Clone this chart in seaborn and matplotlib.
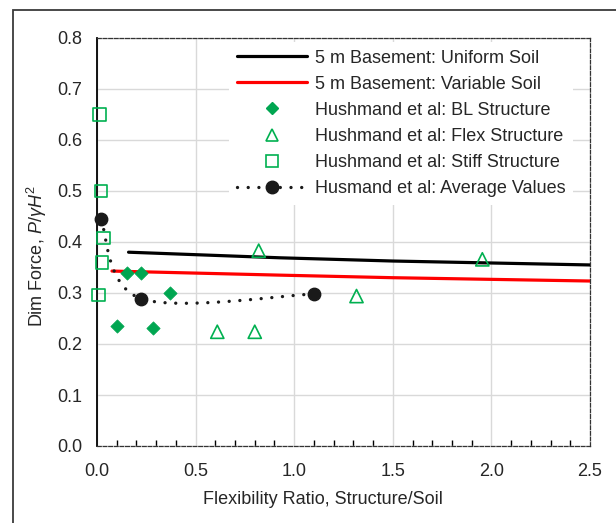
import numpy as np
import pandas as pd
import matplotlib
matplotlib.use("Agg")
import matplotlib.pyplot as plt
from matplotlib.lines import Line2D
from matplotlib.patches import Rectangle
from matplotlib.ticker import MultipleLocator, FormatStrFormatter
import seaborn as sns

# ---- data ----
uniform_x = [0.16, 0.93, 1.5, 2.5]
uniform_y = [0.380, 0.369, 0.3627, 0.355]
variable_x = [0.076, 0.93, 1.5, 2.5]
variable_y = [0.343, 0.335, 0.330, 0.3235]
bl_x = [0.10, 0.154, 0.221, 0.282, 0.370]
bl_y = [0.235, 0.340, 0.340, 0.231, 0.300]
flex_x = [0.61, 0.80, 0.82, 1.316, 1.954]
flex_y = [0.224, 0.224, 0.383, 0.294, 0.366]
stiff_x = [0.012, 0.019, 0.032, 0.024, 0.007]
stiff_y = [0.650, 0.500, 0.408, 0.360, 0.296]
avg_x = [0.019, 0.223, 1.102]
avg_y = [0.4445, 0.289, 0.298]

labels = [
    "5 m Basement: Uniform Soil",
    "5 m Basement: Variable Soil",
    "Hushmand et al: BL Structure",
    "Hushmand et al: Flex Structure",
    "Hushmand et al: Stiff Structure",
    "Husmand et al: Average Values",
]

sns.set_style("white")
plt.rcParams["font.family"] = ["Liberation Sans", "DejaVu Sans"]
plt.rcParams["mathtext.fontset"] = "custom"
plt.rcParams["mathtext.it"] = "Liberation Sans:italic"
plt.rcParams["mathtext.rm"] = "Liberation Sans"

FS = 13.0
GREEN = "#00a651"
GREEN_OPEN = "#00b050"

fig = plt.figure(figsize=(6.16, 5.23), dpi=100)
ax = fig.add_axes([97 / 616, 1 - 446 / 523, (590 - 97) / 616, (446 - 38) / 523])
ax.set_xlim(0, 2.5)
ax.set_ylim(0, 0.8)

# outer chart border
fig.patches.append(Rectangle((13 / 616, -0.2), 1.2, 1.2 - 10 / 523,
                             transform=fig.transFigure, fill=False,
                             edgecolor="#3a3a3a", linewidth=1.3, zorder=0))

# grid
ax.xaxis.set_major_locator(MultipleLocator(0.5))
ax.xaxis.set_minor_locator(MultipleLocator(0.1))
ax.yaxis.set_major_locator(MultipleLocator(0.1))
ax.grid(True, which="major", color="#d9d9d9", linewidth=1.0)
ax.set_axisbelow(True)

# model curves
lines_df = pd.DataFrame({
    "x": uniform_x + variable_x,
    "y": uniform_y + variable_y,
    "series": [labels[0]] * len(uniform_x) + [labels[1]] * len(variable_x),
})
sns.lineplot(data=lines_df, x="x", y="y", hue="series",
             palette={labels[0]: "black", labels[1]: "#ff0000"},
             linewidth=2.3, legend=False, ax=ax, sort=False, zorder=3)

# measured points
sns.scatterplot(x=bl_x, y=bl_y, marker="D", s=46, color=GREEN,
                edgecolor=GREEN, linewidth=0.5, ax=ax, zorder=4, clip_on=False)
sns.scatterplot(x=flex_x, y=flex_y, marker="^", s=90, facecolor="none",
                edgecolor=GREEN_OPEN, linewidth=1.2, ax=ax, zorder=4, clip_on=False)
sns.scatterplot(x=stiff_x, y=stiff_y, marker="s", s=80, facecolor="none",
                edgecolor=GREEN_OPEN, linewidth=1.2, ax=ax, zorder=4, clip_on=False)


def smooth_curve(ax, xs, ys, n=60):
    """Bezier-smoothed polyline through the given points (display space)."""
    pts = ax.transData.transform(np.column_stack([xs, ys]))
    m = len(pts)
    out = [pts[0]]
    t = np.linspace(0, 1, n)[1:, None]
    for i in range(m - 1):
        p0 = pts[max(i - 1, 0)]
        p1 = pts[i]
        p2 = pts[i + 1]
        p3 = pts[min(i + 2, m - 1)]
        c1 = p1 + (p2 - p0) / 6
        c2 = p2 - (p3 - p1) / 6
        seg = ((1 - t) ** 3) * p1 + 3 * ((1 - t) ** 2) * t * c1 \
            + 3 * (1 - t) * t ** 2 * c2 + t ** 3 * p2
        out.extend(seg)
    return ax.transData.inverted().transform(np.array(out))


DOTS = (0, (0.01, 3.2))
curve = smooth_curve(ax, avg_x, avg_y)
ax.plot(curve[:, 0], curve[:, 1], color="#1a1a1a", linewidth=2.4,
        linestyle=DOTS, dash_capstyle="round", zorder=3, clip_on=False)
sns.scatterplot(x=avg_x, y=avg_y, marker="o", s=80, color="#1a1a1a",
                edgecolor="#1a1a1a", linewidth=1.0, ax=ax, zorder=5, clip_on=False)

# spines and ticks
for side in ["top", "right", "bottom"]:
    ax.spines[side].set_linestyle((0, (3, 1.5)))
    ax.spines[side].set_linewidth(0.9)
    ax.spines[side].set_color("#333333")
ax.spines["left"].set_linewidth(1.3)
ax.spines["left"].set_color("black")
ax.tick_params(axis="y", which="major", direction="out", length=5,
               width=1, labelsize=FS, color="black", pad=5.5)
ax.tick_params(axis="x", which="major", direction="inout", length=9,
               width=1, labelsize=FS, color="black", pad=8)
ax.tick_params(axis="x", which="minor", direction="in", length=4,
               width=1, color="black", bottom=True)
ax.xaxis.set_major_formatter(FormatStrFormatter("%.1f"))
ax.yaxis.set_major_formatter(FormatStrFormatter("%.1f"))

ax.set_xlabel("Flexibility Ratio, Structure/Soil", fontsize=FS)
ax.set_ylabel(r"Dim Force, $P/\gamma H^2$", fontsize=FS)
ax.xaxis.set_label_coords((322.5 - 97) / 493, (446 - 499) / 408)
ax.xaxis.label.set_va("center")
ax.yaxis.set_label_coords((37 - 97) / 493, (446 - 256) / 408)
ax.yaxis.label.set_va("center")
ax.yaxis.label.set_ha("center")

# legend
handles = [
    Line2D([], [], color="black", linewidth=2.3),
    Line2D([], [], color="#ff0000", linewidth=2.3),
    Line2D([], [], linestyle="none", marker="D", markersize=6.5,
           color=GREEN),
    Line2D([], [], linestyle="none", marker="^", markersize=9,
           markerfacecolor="none", markeredgecolor=GREEN_OPEN,
           markeredgewidth=1.2),
    Line2D([], [], linestyle="none", marker="s", markersize=8.8,
           markerfacecolor="none", markeredgecolor=GREEN_OPEN,
           markeredgewidth=1.2),
    Line2D([], [], color="#1a1a1a", linewidth=2.4, linestyle=DOTS,
           dash_capstyle="round", marker="o", markersize=9),
]
leg = ax.legend(handles, labels, loc="upper right",
                bbox_to_anchor=(1.0 - 13 / 493, 1.0), fontsize=FS, frameon=True,
                fancybox=False, framealpha=1, edgecolor="none",
                facecolor="white", handlelength=3.9, handletextpad=0.4,
                labelspacing=0.5, borderpad=0.45, borderaxespad=0.2)
leg.set_zorder(6)

fig.savefig("out.png", dpi=100)
